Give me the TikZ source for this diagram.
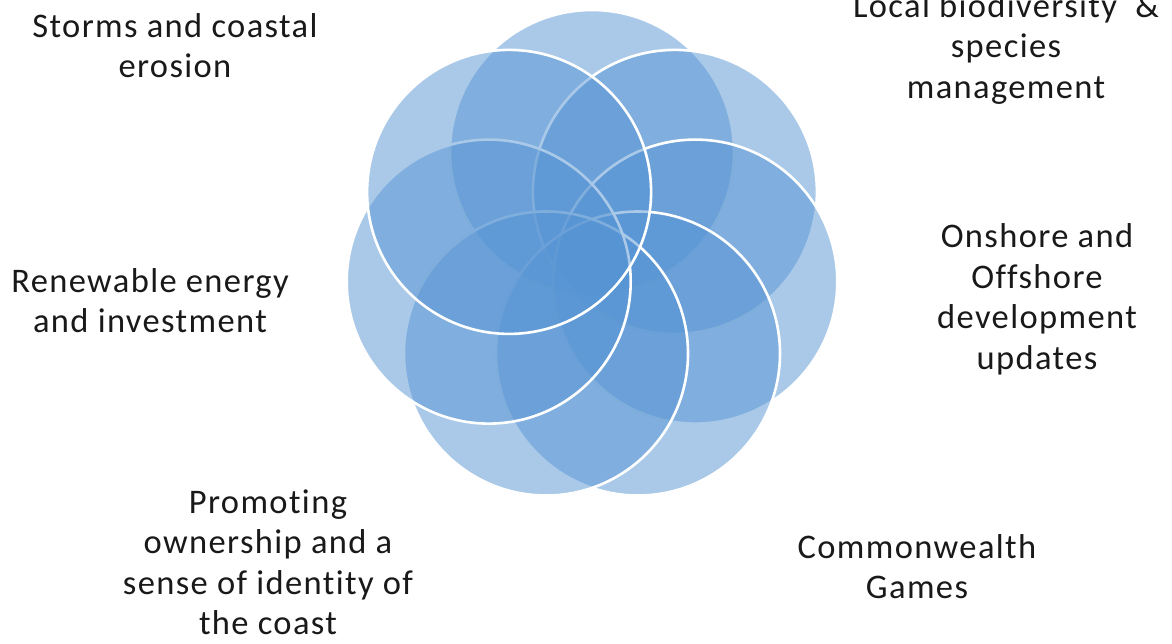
\documentclass[tikz,border=0pt]{standalone}
\usepackage{fontspec}
\setmainfont{Carlito}[Ligatures=NoCommon,LetterSpace=4]
\definecolor{petalblue}{RGB}{86,148,211}
\definecolor{labeltext}{RGB}{25,25,25}
\begin{document}
\begin{tikzpicture}[x=1pt,y=-1pt,
  petal/.style={fill=petalblue,fill opacity=0.5,draw=white,draw opacity=1,line width=2.6pt},
  lbl/.style={align=center,anchor=base,inner sep=0pt,text=labeltext,font=\fontsize{34.5}{40.5}\selectfont}]
\useasboundingbox (0,0) rectangle (1172,643);
% seven petals, drawn clockwise from the top one
\path[petal] (592,152) circle[radius=142];
\path[petal] (674.9,191.9) circle[radius=142];
\path[petal] (695.3,281.6) circle[radius=142];
\path[petal] (638.0,353.5) circle[radius=142];
\path[petal] (546.0,353.5) circle[radius=142];
\path[petal] (488.7,281.6) circle[radius=142];
\path[petal] (509.1,191.9) circle[radius=142];
% labels (anchored at the baseline of their last line)
\node[lbl] (storms) at (175,77.5) {Storms and coastal\\erosion};
\node[lbl] (local) at (1006,98) {Local biodiversity\ \ \&\\species\\management};
\node[lbl] (onshore) at (1037,369) {Onshore and\\Offshore\\development\\updates};
\node[lbl] (games) at (917,598.5) {Commonwealth\\Games};
\node[lbl] (promo) at (268,634.5) {Promoting\\ownership and a\\sense of identity of\\the coast};
\node[lbl] (renew) at (150,332.5) {Renewable energy\\and investment};
\end{tikzpicture}
\end{document}
